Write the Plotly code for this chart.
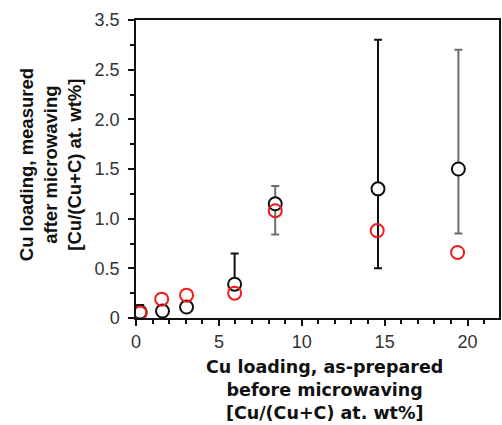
import plotly.graph_objects as go

# Black series (measured, with error bars)
black_x = [0.25, 1.6, 3.05, 5.95, 8.4, 14.6, 19.45]
black_y = [0.06, 0.07, 0.11, 0.34, 1.15, 1.30, 1.50]
black_err_plus = [0.07, 0.0, 0.0, 0.31, 0.18, 1.50, 1.20]
black_err_minus = [0.0, 0.0, 0.0, 0.0, 0.31, 0.80, 0.65]
# which error bars are drawn in gray
gray_bar = [False, False, False, False, True, False, True]

# Red series
red_x = [0.25, 1.55, 3.05, 5.95, 8.4, 14.55, 19.4]
red_y = [0.05, 0.19, 0.23, 0.25, 1.08, 0.88, 0.66]

x_tick_vals = [0, 5, 10, 15, 20]
y_tick_vals = [0, 0.5, 1.0, 1.5, 2.0, 2.5, 3.0]
y_tick_text = ["0", "0.5", "1.0", "1.5", "2.0", "2.5", "3.5"]

fig = go.Figure()

for color, flag in (("#111111", False), ("#6e6e6e", True)):
    xs = [x for x, g in zip(black_x, gray_bar) if g == flag]
    ys = [y for y, g in zip(black_y, gray_bar) if g == flag]
    ep = [e for e, g in zip(black_err_plus, gray_bar) if g == flag]
    em = [e for e, g in zip(black_err_minus, gray_bar) if g == flag]
    fig.add_trace(go.Scatter(
        x=xs, y=ys, mode="markers",
        marker=dict(size=1, color="rgba(0,0,0,0)"),
        error_y=dict(type="data", symmetric=False, array=ep, arrayminus=em,
                     color=color, thickness=2, width=4),
        showlegend=False, hoverinfo="skip",
    ))

fig.add_trace(go.Scatter(
    x=black_x, y=black_y, mode="markers",
    marker=dict(symbol="circle", size=13, color="white",
                line=dict(color="#111111", width=2)),
    showlegend=False,
))
fig.add_trace(go.Scatter(
    x=red_x, y=red_y, mode="markers",
    marker=dict(symbol="circle-open", size=13, color="#ee1c1c",
                line=dict(color="#ee1c1c", width=2)),
    showlegend=False,
))

FONT = "Liberation Sans, Arial, sans-serif"
axis_font = dict(family=FONT, size=18, color="#333333")

fig.update_layout(
    width=502, height=425,
    margin=dict(l=136, r=1, t=20, b=107),
    paper_bgcolor="white", plot_bgcolor="white",
    xaxis=dict(
        range=[0, 21.9], tickvals=x_tick_vals, ticks="outside", ticklen=6,
        tickwidth=1.5, tickcolor="#111", showline=True, linecolor="#111",
        linewidth=1.5, mirror=True, showgrid=False, zeroline=False,
        tickfont=axis_font, ticklabelstandoff=1,
        minor=dict(dtick=1, ticks="outside", ticklen=4, tickwidth=1.5, tickcolor="#111"),
    ),
    yaxis=dict(
        range=[0, 3.0], tickvals=y_tick_vals, ticktext=y_tick_text,
        ticks="outside", ticklen=6, tickwidth=1.5, tickcolor="#111",
        showline=True, linecolor="#111", linewidth=1.5, mirror=True,
        showgrid=False, zeroline=False, tickfont=axis_font, ticklabelstandoff=5,
        minor=dict(dtick=0.25, ticks="outside", ticklen=4, tickwidth=1.5, tickcolor="#111"),
    ),
    annotations=[
        dict(text="<b>Cu loading, as-prepared<br>before microwaving<br>[Cu/(Cu+C) at. wt%]</b>",
             xref="paper", yref="paper", x=0.52, y=-0.125, xanchor="center", yanchor="top",
             showarrow=False, align="center",
             font=dict(family="DejaVu Sans, sans-serif", size=17.5, color="#111")),
        dict(text="<b>Cu loading, measured<br>after microwaving<br>[Cu/(Cu+C) at. wt%]</b>",
             xref="paper", yref="paper", x=-0.235, y=0.515, xanchor="center", yanchor="middle",
             showarrow=False, align="center", textangle=-90,
             font=dict(family=FONT, size=18.5, color="#111")),
    ],
)

fig.write_html("out.html", config={"displayModeBar": False},
               post_script="document.body.style.margin='0';")
